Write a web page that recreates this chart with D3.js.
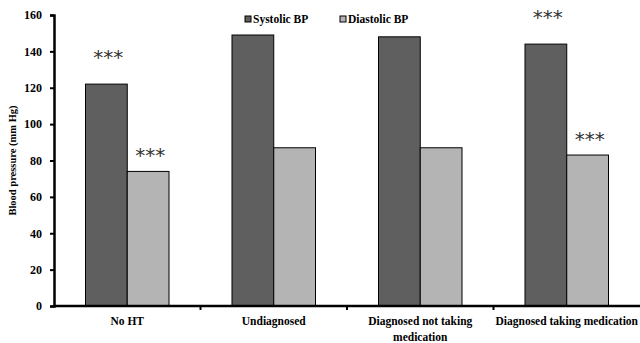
<!DOCTYPE html>
<html><head><meta charset="utf-8">
<script src="https://cdn.jsdelivr.net/npm/d3@7"></script>
<style>body{margin:0;background:#fff}svg{display:block}text{font-family:"Liberation Serif","Times New Roman",serif;font-weight:bold}</style>
</head><body>
<svg id="c" width="640" height="343"></svg>
<script>
const categories = ["No HT", "Undiagnosed", "Diagnosed not taking medication", "Diagnosed taking medication"];
const seriesNames = ["Systolic BP", "Diastolic BP"];
const systolic = [122, 149, 148, 144];
const diastolic = [74, 87, 87, 83];
const sigSystolic = ["***", "", "", "***"];
const sigDiastolic = ["***", "", "", "***"];
const yTicks = [0, 20, 40, 60, 80, 100, 120, 140, 160];
const colors = ["#5f5f5f", "#b4b4b4"];

const svg = d3.select("#c");
const m = {l: 54, r: 0, t: 15, b: 37};
const W = 640, H = 343;
const x = d3.scaleBand().domain(categories).range([m.l, W - m.r]).paddingInner(0).paddingOuter(0);
const y = d3.scaleLinear().domain([0, 160]).range([H - m.b, m.t]);
const bw = x.bandwidth() * 0.285;
const sigGap = [28, 17];

const g = svg.append("g");
categories.forEach((c, i) => {
  const cx = x(c) + x.bandwidth() / 2;
  [systolic[i], diastolic[i]].forEach((v, j) => {
    g.append("rect").attr("x", cx - bw + j * bw).attr("y", y(v))
      .attr("width", bw).attr("height", y(0) - y(v))
      .attr("fill", colors[j]).attr("stroke", "#000").attr("stroke-width", 1);
  });
  [[sigSystolic[i], systolic[i], 0], [sigDiastolic[i], diastolic[i], 1]].forEach(([s, v, j]) => {
    if (!s) return;
    svg.append("text").attr("x", cx - bw / 2 + j * bw + 2).attr("y", y(v) - sigGap[j] + 8)
      .attr("text-anchor", "middle")
      .style("font-family", "'DejaVu Sans',sans-serif").style("font-weight", "normal")
      .style("font-size", "20px").attr("fill", "#333").text(s);
  });
});

// y axis
const ya = svg.append("g").attr("transform", `translate(${m.l},0)`)
  .call(d3.axisLeft(y).tickValues(yTicks).tickSize(4).tickPadding(8));
ya.select(".domain").attr("stroke", "#000").attr("stroke-width", 2.5);
ya.selectAll(".tick line").attr("stroke", "#000").attr("stroke-width", 2);
ya.selectAll(".tick text").style("font-size", "12px").attr("fill", "#000");

// x axis
const xa = svg.append("g").attr("transform", `translate(0,${y(0)})`);
xa.append("line").attr("x1", m.l).attr("x2", W - m.r).attr("stroke", "#000").attr("stroke-width", 2.5);
categories.forEach((c, i) => {
  if (i > 0) xa.append("line").attr("x1", x(c)).attr("x2", x(c)).attr("y1", 0).attr("y2", 4).attr("stroke", "#000").attr("stroke-width", 2);
});
const labelLines = [["No HT"], ["Undiagnosed"], ["Diagnosed not taking", "medication"], ["Diagnosed taking medication"]];
categories.forEach((c, i) => {
  const t = xa.append("text").attr("text-anchor", "middle").attr("fill", "#000").style("font-size", "11.5px");
  labelLines[i].forEach((ln, k) => t.append("tspan").attr("x", x(c) + x.bandwidth() / 2).attr("y", 19 + k * 16).text(ln));
});

// y title
svg.append("text").attr("transform", `translate(16,${(m.t + H - m.b) / 2}) rotate(-90)`)
  .attr("text-anchor", "middle").style("font-size", "10.5px").attr("fill", "#000").text("Blood pressure (mm Hg)");

// legend
const lx = [248, 343];
seriesNames.forEach((s, i) => {
  svg.append("rect").attr("x", lx[i] - 3).attr("y", 16).attr("width", 6).attr("height", 6)
    .attr("fill", colors[i]).attr("stroke", "#000").attr("stroke-width", 1);
  svg.append("text").attr("x", lx[i] + 5).attr("y", 23).style("font-size", "11.5px").attr("fill", "#000").text(s);
});
</script>
</body></html>
